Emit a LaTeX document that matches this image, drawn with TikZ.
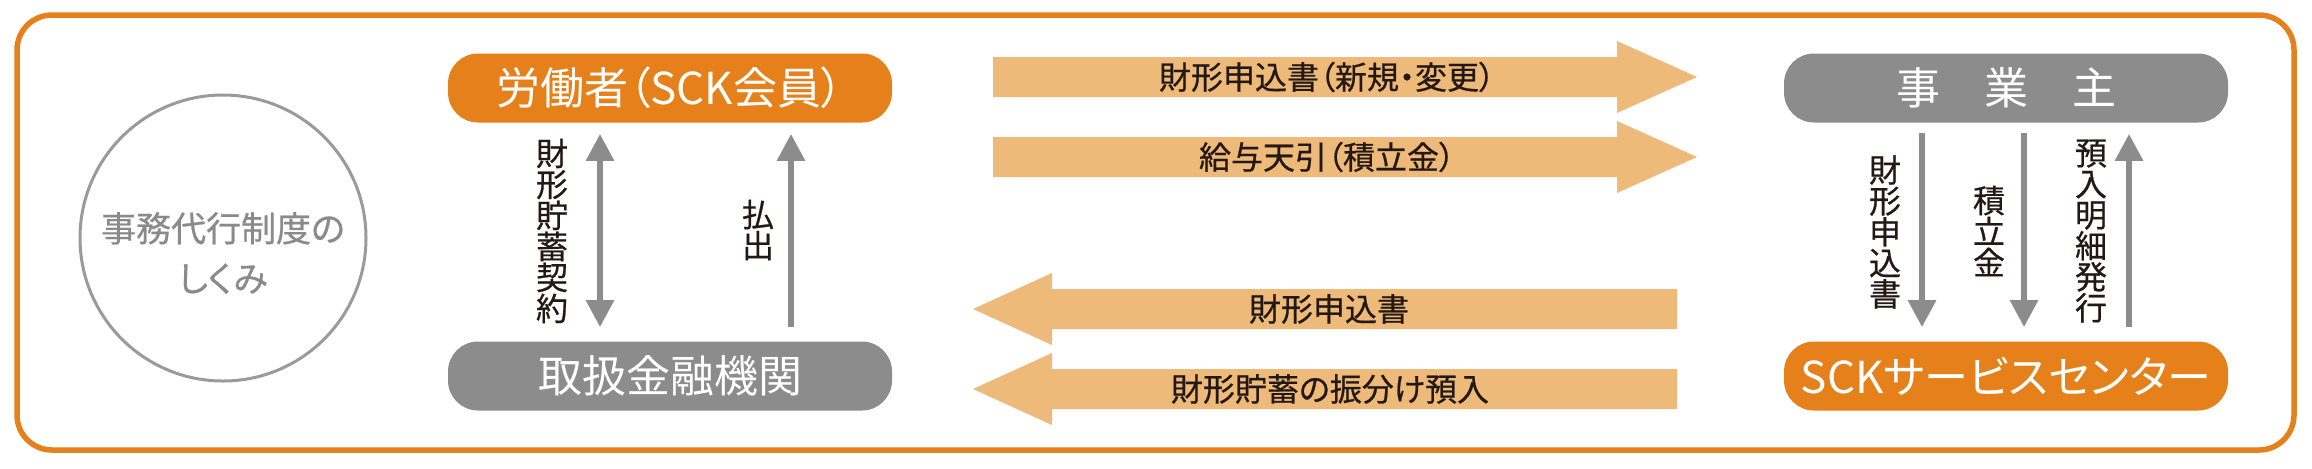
\documentclass[tikz,border=0pt]{standalone}
\usepackage{fontspec}
\newfontfamily\jp[RawFeature=+palt]{Noto Sans CJK JP}
\newfontfamily\jpb[RawFeature=+palt,FakeBold=0.6]{Noto Sans CJK JP}
\usetikzlibrary{arrows.meta,calc}
\definecolor{orng}{HTML}{E5801A}
\definecolor{lorng}{HTML}{EEBA7A}
\definecolor{gry}{HTML}{8C8C8C}
\definecolor{txt}{HTML}{231815}
\definecolor{ctxt}{HTML}{8A8A8A}
\definecolor{cline}{HTML}{9A9A9A}
\begin{document}
\begin{tikzpicture}[x=0.5pt,y=-0.5pt,
  box/.style={rounded corners=15pt, minimum width=222pt, minimum height=34.5pt, inner sep=0pt, text=white, font=\jp\fontsize{22pt}{22pt}\selectfont},
  obox/.style={box, fill=orng},
  gbox/.style={box, fill=gry},
  vlab/.style={align=center, inner sep=0pt, text=txt, font=\jpb\fontsize{16pt}{15.5pt}\selectfont},
  hlab/.style={inner sep=0pt, text=txt, font=\jpb\fontsize{16pt}{16pt}\selectfont},
  garrow/.style={draw=gry, line width=3pt, -{Triangle[width=13.5pt,length=13.5pt]}},
  fat/.style={fill=lorng},
]
\useasboundingbox (0,0) rectangle (2312,468);
\draw[orng, line width=2.75pt, rounded corners=17.5pt] (17,15) rectangle (2294,450);

% circle
\node[circle, draw=cline, line width=1.5pt, minimum size=143pt, inner sep=0pt] (circ) at (223,238) {};
\node[align=center, inner sep=0pt, text=ctxt, font=\jpb\fontsize{17.5pt}{25pt}\selectfont] (circtxt) at (223,253) {事務代行制度の\\しくみ};

% boxes
\node[obox] (wk) at (670,88) {労働者（SCK会員）};
\node[gbox] (bank) at (670,376) {取扱金融機関};
\node[gbox] (emp) at (2006,88) {事　業　主};
\node[obox] (sck) at (2006,376) {SCKサービスセンター};

% left gray arrows
\draw[garrow, {Triangle[width=13.5pt,length=13.5pt]}-{Triangle[width=13.5pt,length=13.5pt]}] ($(wk.south)+(-70,11)$) -- ($(bank.north)+(-70,-14)$);
\draw[garrow] ($(bank.north)+(121,-14)$) -- ($(wk.south)+(121,11)$);
\node[vlab] (l1) at (552,231) {財\\形\\貯\\蓄\\契\\約};
\node[vlab] (l2) at (758,230) {払\\出};

% right gray arrows
\draw[garrow] ($(emp.south)+(-84,10)$) -- ($(sck.north)+(-84,-14)$);
\draw[garrow] ($(emp.south)+(18,10)$) -- ($(sck.north)+(18,-14)$);
\draw[garrow] ($(sck.north)+(123,-14)$) -- ($(emp.south)+(123,11)$);
\node[vlab] (r1) at (1885,232) {財\\形\\申\\込\\書};
\node[vlab] (r2) at (1989,231) {積\\立\\金};
\node[vlab] (r3) at (2091,231) {預\\入\\明\\細\\発\\行};

% fat arrows
\fill[fat] (993,57) -- (1617,57) -- (1617,41) -- (1697,77) -- (1617,113) -- (1617,97) -- (993,97) -- cycle;
\fill[fat] (993,137) -- (1617,137) -- (1617,121) -- (1697,157) -- (1617,193) -- (1617,177) -- (993,177) -- cycle;
\fill[fat] (1677,289) -- (1052,289) -- (1052,273) -- (973,309) -- (1052,345) -- (1052,329) -- (1677,329) -- cycle;
\fill[fat] (1677,369) -- (1052,369) -- (1052,353) -- (973,389) -- (1052,425) -- (1052,409) -- (1677,409) -- cycle;
\node[hlab] (t1) at (1327,77) {財形申込書（新規・変更）};
\node[hlab] (t2) at (1327,157) {給与天引（積立金）};
\node[hlab] (t3) at (1329,309) {財形申込書};
\node[hlab] (t4) at (1330,389) {財形貯蓄の振分け預入};
\end{tikzpicture}
\end{document}
